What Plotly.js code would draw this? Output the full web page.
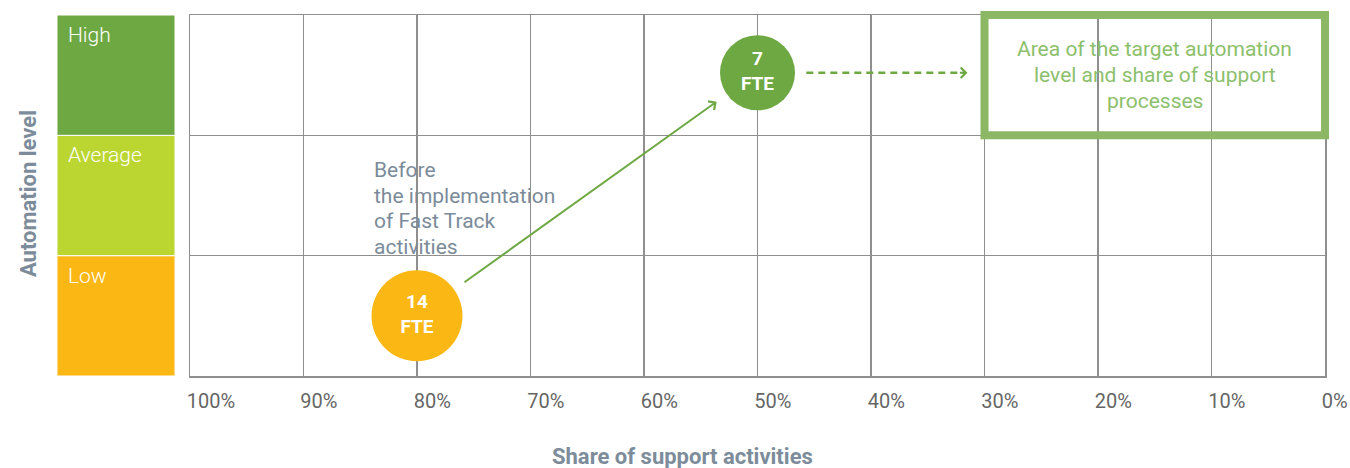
<!DOCTYPE html>
<html>
<head>
<meta charset="utf-8">
<script src="https://cdn.plot.ly/plotly-3.0.1.min.js"></script>
<style>
  html, body { margin: 0; padding: 0; background: #fff; }
  #grafico { width: 1350px; height: 468px; }
</style>
</head>
<body>
<div id="grafico"></div>
<script>
// datos del grafico
const nivelesAutomatizacion = ['Low', 'Average', 'High'];
const coloresNivel = ['#fbb714', '#bcd631', '#6ea843'];
const ticksShare = [100, 90, 80, 70, 60, 50, 40, 30, 20, 10, 0];

const valoresFTE = [14, 7];
const shareSoporte = [80, 50];          // % de actividades de soporte
const nivelAuto = [0.5, 2.52];          // posicion en la escala de automatizacion (0-3)
const coloresFTE = ['#fbb714', '#6ea843'];

const zonaObjetivoShare = [30, 0];
const zonaObjetivoNivel = [2, 3];

const notaAntes = ['Before', 'the implementation', 'of Fast Track', 'activities'];
const notaObjetivo = ['Area of the target automation', 'level and share of support', 'processes'];

// flechas (inicio -> fin), en coordenadas de datos
const flechaX = [75.95, 53.6];
const flechaY = [0.77, 2.28];
const flechaDashX = [45.7, 31.5];
const flechaDashY = [2.52, 2.52];

const gris = '#8f8f8f';
const verde = '#6ea843';

const burbujas = {
    x: shareSoporte,
    y: nivelAuto,
    text: valoresFTE.map(v => v + '<br>FTE'),
    mode: 'markers+text',
    type: 'scatter',
    textposition: 'middle center',
    textfont: { family: 'Roboto', size: 19, color: '#ffffff', weight: 'bold' },
    marker: { size: [91, 75], color: coloresFTE, line: { width: 0 }, opacity: 1 },
    hoverinfo: 'skip',
    cliponaxis: false
};

// bandas de color a la izquierda
const shapes = nivelesAutomatizacion.map((nivel, i) => ({
    type: 'rect', xref: 'paper', yref: 'y',
    x0: -0.1172, x1: -0.0132, y0: i, y1: i + 1,
    fillcolor: coloresNivel[i], line: { color: '#ffffff', width: 1 }, layer: 'below'
}));

// caja de la zona objetivo
shapes.push({
    type: 'rect', xref: 'paper', yref: 'paper',
    x0: (100 - zonaObjetivoShare[0]) / 100, x1: (100 - zonaObjetivoShare[1]) / 100,
    y0: zonaObjetivoNivel[0] / 3, y1: zonaObjetivoNivel[1] / 3,
    line: { color: '#8cb866', width: 8 }, fillcolor: 'rgba(0,0,0,0)', layer: 'above'
});

// linea discontinua
shapes.push({
    type: 'line', xref: 'x', yref: 'y',
    x0: flechaDashX[0], x1: flechaDashX[1] + 0.2, y0: flechaDashY[0], y1: flechaDashY[1],
    line: { color: verde, width: 2.5, dash: '7px,5px' }
});

const annotations = nivelesAutomatizacion.map((nivel, i) => ({
    xref: 'paper', yref: 'y', x: -0.109, y: i + 1,
    xanchor: 'left', yanchor: 'middle', yshift: -20,
    text: nivel, showarrow: false,
    font: { family: 'Roboto', size: 21, color: '#ffffff', weight: 300 }
}));

// texto de varias lineas con interlineado fijo
function lineasTexto(lineas, x, y, xanchor, paso, fuente) {
    const medio = (lineas.length - 1) / 2;
    lineas.forEach((linea, i) => {
        annotations.push({
            xref: 'x', yref: 'y', x: x, y: y,
            xanchor: xanchor, yanchor: 'middle',
            yshift: (medio - i) * paso, borderpad: 0,
            text: linea, showarrow: false, font: fuente
        });
    });
}

lineasTexto(notaAntes, 83.9, 1.392, 'left', 25.7,
    { family: 'Roboto', size: 21, color: '#7b8b9a' });
lineasTexto(notaObjetivo, 15, 2.5, 'center', 26,
    { family: 'Roboto', size: 21, color: '#8cc06c' });

// flecha verde solida
annotations.push({
    xref: 'x', yref: 'y', axref: 'x', ayref: 'y',
    x: flechaX[1], y: flechaY[1], ax: flechaX[0], ay: flechaY[0],
    showarrow: true, arrowhead: 4, arrowsize: 1, arrowwidth: 2,
    arrowcolor: verde, standoff: 0, startstandoff: 0, text: ''
});

// punta de la flecha discontinua
annotations.push({
    xref: 'x', yref: 'y', axref: 'x', ayref: 'y',
    x: flechaDashX[1], y: flechaDashY[1], ax: flechaDashX[1] + 0.8, ay: flechaDashY[1],
    showarrow: true, arrowhead: 4, arrowsize: 1, arrowwidth: 2,
    arrowcolor: verde, standoff: 0, text: ''
});

// titulos de ejes
annotations.push({
    xref: 'paper', yref: 'paper', x: 0.434, y: -0.224,
    xanchor: 'center', yanchor: 'middle',
    text: 'Share of support activities', showarrow: false,
    font: { family: 'Roboto', size: 22, color: '#7d8c9a', weight: 'bold' }
});
annotations.push({
    xref: 'paper', yref: 'paper', x: -0.1427, y: 0.504,
    xanchor: 'center', yanchor: 'middle', textangle: -90,
    text: 'Automation level', showarrow: false,
    font: { family: 'Roboto', size: 22, color: '#7d8c9a', weight: 'bold' }
});

const layout = {
    width: 1350,
    height: 468,
    margin: { l: 190, r: 25, t: 15, b: 92 },
    paper_bgcolor: '#ffffff',
    plot_bgcolor: '#ffffff',
    showlegend: false,
    font: { family: 'Roboto' },
    xaxis: {
        range: [100, 0],
        tickvals: ticksShare,
        ticktext: ticksShare.map(v => v + '%'),
        ticks: '',
        ticklabelposition: 'outside right',
        ticklabeloverflow: 'allow',
        ticklabelstandoff: 6,
        ticklabelshift: 4,
        tickfont: { family: 'Roboto', size: 20, color: '#666666' },
        showgrid: true, gridcolor: gris, gridwidth: 1.5,
        showline: true, linecolor: gris, linewidth: 1.5, mirror: true,
        zeroline: false, fixedrange: true
    },
    yaxis: {
        range: [0, 3],
        tickvals: [1, 2],
        showticklabels: false,
        ticks: '',
        showgrid: true, gridcolor: gris, gridwidth: 1.5,
        showline: true, linecolor: gris, linewidth: 1.5, mirror: true,
        zeroline: false, fixedrange: true
    },
    shapes: shapes,
    annotations: annotations
};

Plotly.newPlot('grafico', [burbujas], layout, { displayModeBar: false, staticPlot: true });
</script>
</body>
</html>
